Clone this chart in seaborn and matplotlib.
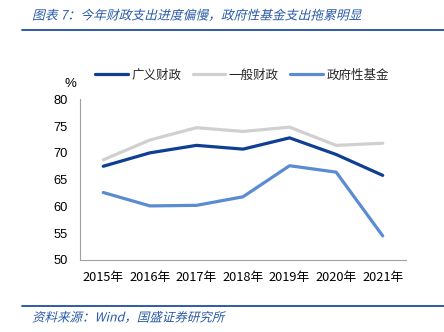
import matplotlib
matplotlib.use("Agg")
import matplotlib.pyplot as plt
import seaborn as sns
import pandas as pd
import numpy as np
from matplotlib.patheffects import AbstractPathEffect
from matplotlib.transforms import Affine2D
from matplotlib.lines import Line2D

years = ["2015年", "2016年", "2017年", "2018年", "2019年", "2020年", "2021年"]
series_names = ["广义财政", "一般财政", "政府性基金"]
broad = [67.5, 70.0, 71.4, 70.7, 72.8, 69.7, 65.8]
general = [68.7, 72.4, 74.7, 74.0, 74.8, 71.4, 71.8]
fund = [62.6, 60.1, 60.2, 61.8, 67.6, 66.4, 54.5]
colors = ["#0E3F92", "#D0D0D0", "#5B8BD0"]
yticks = [50, 55, 60, 65, 70, 75, 80]

sns.set_theme(style="white")
plt.rcParams['font.family'] = ['Noto Sans CJK SC', 'DejaVu Sans']


class Slant(AbstractPathEffect):
    def __init__(self, deg=14):
        super().__init__()
        self.deg = deg

    def draw_path(self, renderer, gc, tpath, affine, rgbFace=None):
        p = Affine2D().skew_deg(self.deg, 0).transform_path(tpath)
        renderer.draw_path(gc, p, affine, rgbFace)


df = pd.DataFrame({
    "pos": list(range(len(years))) * 3,
    "value": broad + general + fund,
    "series": [series_names[0]] * 7 + [series_names[1]] * 7 + [series_names[2]] * 7,
})

fig = plt.figure(figsize=(4.44, 3.32), dpi=100)
ax = fig.add_axes([80 / 444, 1 - 260 / 332, 326 / 444, 160.7 / 332])

sns.lineplot(data=df, x="pos", y="value", hue="series", hue_order=series_names,
             palette=colors, linewidth=2.3, ax=ax, legend=False, sort=False)

ax.set_xlim(-0.5, len(years) - 0.5)
ax.set_ylim(50, 80)
ax.set_yticks(yticks)
ax.set_xticks(np.arange(-0.5, len(years), 1.0))
ax.set_xticklabels([])
ax.set_xticks(range(len(years)), minor=True)
ax.set_xticklabels(years, minor=True)
ax.tick_params(axis="x", which="major", direction="out", length=3.5, color="#A0A0A0", width=0.8)
ax.tick_params(axis="x", which="minor", length=0, pad=8, labelsize=9.2, labelcolor="#000000")
ax.tick_params(axis="y", direction="in", length=3, color="#A0A0A0", width=0.8,
               labelsize=9.3, pad=9, labelcolor="#000000")
for t in ax.get_yticklabels():
    t.set_family(["Liberation Sans", "DejaVu Sans"])
ax.set_xlabel("")
ax.set_ylabel("")
for s in ["top", "right"]:
    ax.spines[s].set_visible(False)
for s in ["left", "bottom"]:
    ax.spines[s].set_color("#A0A0A0")
    ax.spines[s].set_linewidth(0.8)
ax.grid(False)

fig.text(70 / 444, 1 - 84 / 332, "%", fontsize=9.5, ha="center", va="center",
         family=["Liberation Sans", "DejaVu Sans"], color="#000000")

handles = [Line2D([0], [0], color=c, lw=2.3) for c in colors]
fig.legend(handles, series_names, loc="center", bbox_to_anchor=(242 / 444, 1 - 75 / 332),
           ncol=3, frameon=False, fontsize=9, handlelength=2.6, columnspacing=0.9,
           handletextpad=0.3, borderaxespad=0)

title_color = "#2A5AA8"
fig.text(32 / 444, 1 - 16 / 332, "图表 7：今年财政支出进度偏慢，政府性基金支出拖累明显",
         fontsize=9.2, color=title_color, ha="left", va="center", path_effects=[Slant()])
fig.add_artist(Line2D([22 / 444, 1.0], [1 - 30 / 332] * 2, color="#1F4E9E", lw=1.3,
                      transform=fig.transFigure))
fig.add_artist(Line2D([22 / 444, 1.0], [1 - 306 / 332] * 2, color="#1F4E9E", lw=1.3,
                      transform=fig.transFigure))
fig.text(32 / 444, 1 - 318 / 332, "资料来源：Wind，国盛证券研究所",
         fontsize=9, color=title_color, ha="left", va="center", path_effects=[Slant()])

fig.savefig("out.png", dpi=100)
